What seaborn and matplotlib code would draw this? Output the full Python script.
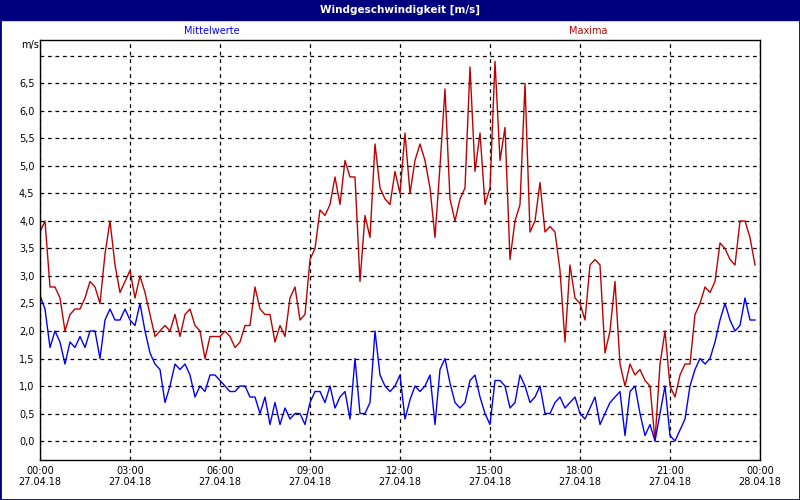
import numpy as np
import pandas as pd
import seaborn as sns
import matplotlib.pyplot as plt
from matplotlib.patches import Rectangle

# 10-minute values, 27.04.18 00:00 .. 23:50
maxima = [3.8, 4.0, 2.8, 2.8, 2.6, 2.0, 2.3, 2.4, 2.4, 2.6, 2.9, 2.8, 2.5, 3.4, 4.0, 3.2,
          2.7, 2.9, 3.1, 2.6, 3.0, 2.7, 2.3, 1.9, 2.0, 2.1, 2.0, 2.3, 1.9, 2.3, 2.4, 2.1,
          2.0, 1.5, 1.9, 1.9, 1.9, 2.0, 1.9, 1.7, 1.8, 2.1, 2.1, 2.8, 2.4, 2.3, 2.3, 1.8,
          2.1, 1.9, 2.6, 2.8, 2.2, 2.3, 3.3, 3.5, 4.2, 4.1, 4.3, 4.8, 4.3, 5.1, 4.8, 4.8,
          2.9, 4.1, 3.7, 5.4, 4.6, 4.4, 4.3, 4.9, 4.5, 5.6, 4.5, 5.1, 5.4, 5.1, 4.6, 3.7,
          5.0, 6.4, 4.4, 4.0, 4.4, 4.6, 6.8, 4.9, 5.6, 4.3, 4.6, 6.9, 5.1, 5.7, 3.3, 4.0,
          4.3, 6.5, 3.8, 4.0, 4.7, 3.8, 3.9, 3.8, 3.1, 1.8, 3.2, 2.6, 2.5, 2.2, 3.2, 3.3,
          3.2, 1.6, 2.0, 2.9, 1.4, 1.0, 1.4, 1.2, 1.3, 1.1, 1.0, 0.0, 1.4, 2.0, 1.0, 0.8,
          1.2, 1.4, 1.4, 2.3, 2.5, 2.8, 2.7, 2.9, 3.6, 3.5, 3.3, 3.2, 4.0, 4.0, 3.7, 3.2]
mittel = [2.65, 2.4, 1.7, 2.0, 1.8, 1.4, 1.8, 1.7, 1.9, 1.7, 2.0, 2.0, 1.5, 2.2, 2.4, 2.2,
          2.2, 2.4, 2.2, 2.1, 2.5, 2.0, 1.6, 1.4, 1.3, 0.7, 1.0, 1.4, 1.3, 1.4, 1.2, 0.8,
          1.0, 0.9, 1.2, 1.2, 1.1, 1.0, 0.9, 0.9, 1.0, 1.0, 0.8, 0.8, 0.5, 0.8, 0.3, 0.7,
          0.3, 0.6, 0.4, 0.5, 0.5, 0.3, 0.7, 0.9, 0.9, 0.7, 1.0, 0.6, 0.8, 0.9, 0.4, 1.5,
          0.5, 0.5, 0.7, 2.0, 1.2, 1.0, 0.9, 1.0, 1.2, 0.4, 0.75, 1.0, 0.9, 1.0, 1.2, 0.3,
          1.3, 1.5, 1.05, 0.7, 0.6, 0.7, 1.1, 1.2, 0.8, 0.5, 0.3, 1.1, 1.1, 1.0, 0.6, 0.7,
          1.2, 1.0, 0.7, 0.8, 1.0, 0.5, 0.5, 0.7, 0.8, 0.6, 0.7, 0.8, 0.5, 0.4, 0.6, 0.8,
          0.3, 0.5, 0.7, 0.8, 0.9, 0.1, 0.9, 1.0, 0.5, 0.1, 0.3, 0.0, 0.5, 1.0, 0.1, 0.0,
          0.2, 0.4, 1.0, 1.3, 1.5, 1.4, 1.5, 1.8, 2.2, 2.5, 2.2, 2.0, 2.1, 2.6, 2.2, 2.2]
tick_hours = [0, 3, 6, 9, 12, 15, 18, 21, 24]
tick_labels = ["00:00\n27.04.18", "03:00\n27.04.18", "06:00\n27.04.18", "09:00\n27.04.18",
               "12:00\n27.04.18", "15:00\n27.04.18", "18:00\n27.04.18", "21:00\n27.04.18",
               "00:00\n28.04.18"]
y_ticks = [0.0, 0.5, 1.0, 1.5, 2.0, 2.5, 3.0, 3.5, 4.0, 4.5, 5.0, 5.5, 6.0, 6.5]

hours = np.arange(len(maxima)) / 6.0
df = pd.DataFrame({"h": hours, "Maxima": maxima, "Mittelwerte": mittel})

plt.rcParams["font.family"] = "DejaVu Sans"
fig = plt.figure(figsize=(8, 5), dpi=100, facecolor="white")
ax = fig.add_axes([40 / 800, 40 / 500, 720 / 800, 420 / 500])

sns.lineplot(data=df, x="h", y="Maxima", ax=ax, color="#c00000", linewidth=1)
sns.lineplot(data=df, x="h", y="Mittelwerte", ax=ax, color="#0000ff", linewidth=1)

ax.set_xlim(0, 24)
ax.set_ylim(-0.345, 7.29)
ax.set_xticks(tick_hours)
ax.set_xticklabels(tick_labels, fontsize=7)
ax.set_yticks(y_ticks + [7.0])
ax.set_yticklabels([f"{v:.1f}".replace(".", ",") for v in y_ticks] + [""], fontsize=7)
ax.tick_params(length=0, pad=4)
ax.grid(True, color="black", linestyle=(0, (3, 3)), linewidth=0.9)
ax.set_xlabel("")
ax.set_ylabel("")
for s in ["left", "bottom", "top", "right"]:
    ax.spines[s].set_linewidth(1)

# title bar and legend texts
fig.patches.append(Rectangle((0, 480 / 500), 1, 20 / 500, transform=fig.transFigure,
                             color="#00007f", zorder=0))
fig.patches.append(Rectangle((0, 0), 1, 1, transform=fig.transFigure, fill=False,
                             edgecolor="#00007f", linewidth=2))
fig.text(0.5, 490 / 500, "Windgeschwindigkeit [m/s]", color="white", fontsize=7.5,
         fontweight="bold", ha="center", va="center")
fig.text(212 / 800, 469 / 500, "Mittelwerte", color="#0000ff", fontsize=7, ha="center", va="center")
fig.text(588 / 800, 469 / 500, "Maxima", color="#c00000", fontsize=7, ha="center", va="center")
fig.text(21 / 800, 455 / 500, "m/s", fontsize=7, ha="left", va="center")

fig.savefig("out.png", dpi=100)
